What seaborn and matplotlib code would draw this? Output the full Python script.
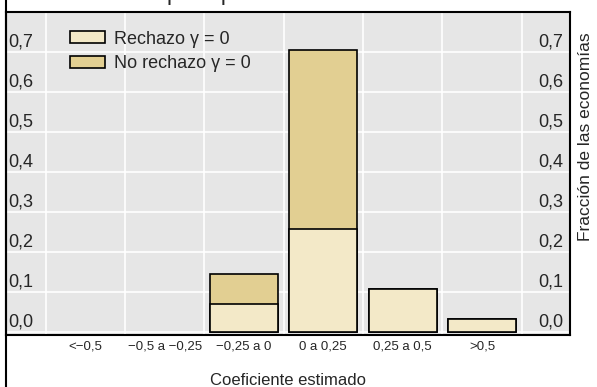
import numpy as np
import pandas as pd
import seaborn as sns
import matplotlib.pyplot as plt
from matplotlib.patches import Patch
from matplotlib.lines import Line2D
import matplotlib.transforms as mtransforms

# data (fraction of economies)
categorias = ['<\u22120,5', '\u22120,5 a \u22120,25', '\u22120,25 a 0', '0 a 0,25', '0,25 a 0,5', '>0,5']
rechazo = [0.0, 0.0, 0.070, 0.256, 0.108, 0.032]
no_rechazo = [0.0, 0.0, 0.075, 0.448, 0.0, 0.0]
y_ticks = [0.0, 0.1, 0.2, 0.3, 0.4, 0.5, 0.6, 0.7]
y_labels = ['0,0', '0,1', '0,2', '0,3', '0,4', '0,5', '0,6', '0,7']

titulo = 'Coeficientes para precios de alimentos'
leyenda = ['Rechazo \u03b3 = 0', 'No rechazo \u03b3 = 0']

c_light = '#f3e9c8'
c_dark = '#e2cf92'
c_bg = '#e6e6e6'

sns.set_style('white')
plt.rcParams['font.family'] = ['Liberation Sans', 'DejaVu Sans']

df = pd.DataFrame({'cat': categorias, 'rechazo': rechazo, 'no_rechazo': no_rechazo})
df['total'] = df['rechazo'] + df['no_rechazo']
df = df[df['total'] > 0]  # empty classes get no bar

fig = plt.figure(figsize=(5.97, 3.87), dpi=100)
ax = fig.add_axes([6 / 597, 1 - 335 / 387, 564 / 597, 323 / 387])
ax.set_facecolor(c_bg)

# stacked look: full height in dark, rejected share drawn over it in light
sns.barplot(data=df, x='cat', y='total', order=categorias, color=c_dark, saturation=1,
            edgecolor='black', linewidth=1.2, width=0.86, errorbar=None, ax=ax)
sns.barplot(data=df, x='cat', y='rechazo', order=categorias, color=c_light, saturation=1,
            edgecolor='black', linewidth=1.2, width=0.86, errorbar=None, ax=ax)

ax.set_xlim(-1.0, 6.11)
ax.set_ylim(-0.008, 0.8)

ax.set_xticks(range(len(categorias)))
ax.set_xticklabels(categorias, fontsize=9.5)
ax.set_xticks(np.arange(-0.5, len(categorias), 1), minor=True)
ax.tick_params(axis='x', which='major', length=0, pad=4)
ax.tick_params(axis='x', which='minor', direction='in', length=9, width=1, color='black')
ax.set_yticks(y_ticks)
ax.tick_params(axis='y', length=0, labelleft=False)

ax.grid(False)
ax.grid(which='minor', axis='x', color='white', lw=1.2)
ax.grid(which='major', axis='y', color='white', lw=1.2)
ax.set_axisbelow(True)

for s in ax.spines.values():
    s.set_visible(True)
    s.set_color('black')
    s.set_linewidth(1.5)
    s.set_zorder(5)

# y labels sit inside the frame, just above their gridlines, on both sides
trans = mtransforms.blended_transform_factory(ax.transAxes, ax.transData)
for v, lab in zip(y_ticks, y_labels):
    ax.annotate(lab, xy=(0, v), xycoords=trans, xytext=(1.5, 4), textcoords='offset points',
                ha='left', va='baseline', fontsize=13)
    ax.annotate(lab, xy=(1, v), xycoords=trans, xytext=(-5, 4), textcoords='offset points',
                ha='right', va='baseline', fontsize=13)

ax.set_xlabel('Coeficiente estimado', fontsize=12, labelpad=15)
ax.set_ylabel('')

handles = [Patch(facecolor=c_light, edgecolor='black', linewidth=1.2),
           Patch(facecolor=c_dark, edgecolor='black', linewidth=1.2)]
ax.legend(handles, leyenda, loc='upper left', bbox_to_anchor=(0.113, 0.942), frameon=False,
          fontsize=13, borderpad=0, borderaxespad=0, handlelength=1.95, handleheight=0.65,
          handletextpad=0.5, labelspacing=0.4)

fig.text(585 / 597, 1 - 137 / 387, 'Fracci\u00f3n de las econom\u00edas', rotation=90,
         ha='center', va='center', fontsize=12.5)

# title of the panel, cut off at the top edge as in the source
fig.text(30 / 597, 1.0, titulo, ha='left', va='baseline', fontsize=17)

# outer frame line continuing down the left side
x0 = 6 / 597
fig.add_artist(Line2D([x0, x0], [0, 1], color='black', lw=1.5, transform=fig.transFigure))

fig.savefig('out.png', dpi=100)
